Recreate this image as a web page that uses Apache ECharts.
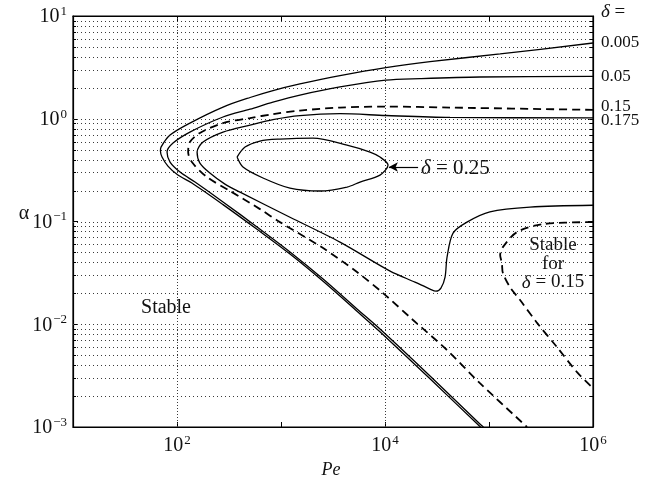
<!DOCTYPE html>
<html>
<head>
<meta charset="utf-8">
<script src="https://cdn.jsdelivr.net/npm/echarts@6/dist/echarts.min.js"></script>
<style>
  html, body { margin: 0; padding: 0; background: #fff; }
  #chart { width: 650px; height: 484px; }
</style>
</head>
<body>
<div id="chart"></div>
<script>
const SERIF = '"Liberation Serif", "DejaVu Serif", serif';

// Axis ranges and tick labels (powers of ten)
const PE_MIN = 10, PE_MAX = 1e6;
const ALPHA_MIN = 1e-3, ALPHA_MAX = 10;
const peLabelExponents = [2, 4, 6];
const alphaLabelExponents = [-3, -2, -1, 0, 1];
const peGridLines = [1e2, 1e4];
const mantissas = [2, 3, 4, 5, 6, 7, 8, 9];

// Neutral-stability curves, [Pe, alpha] pairs
const delta0005 = [
  [1e6, 5.46], [1.28e5, 4.27], [27100, 3.60], [10200, 3.15], [3690, 2.63],
  [1520, 2.18], [837, 1.88], [504, 1.61], [277, 1.30], [133, 0.908],
  [85.7, 0.694], [70.2, 0.530], [69.3, 0.485], [71.8, 0.424], [81.8, 0.346],
  [102, 0.283], [139, 0.237], [277, 0.146], [588, 0.0839], [1220, 0.0482],
  [2540, 0.0262], [5380, 0.0134], [8950, 0.00845], [27100, 0.00295], [81800, 0.00101],
  [83700, 0.001]
];
const delta005 = [
  [1e6, 2.58], [81800, 2.55], [21700, 2.46], [10200, 2.38], [3690, 2.04],
  [1520, 1.70], [837, 1.45], [504, 1.24], [277, 1.04], [133, 0.742],
  [91.6, 0.580], [80.2, 0.474], [85.7, 0.379], [107, 0.303], [149, 0.242],
  [277, 0.155], [588, 0.0885], [1220, 0.0506], [2540, 0.0276], [5380, 0.0141],
  [8950, 0.0090], [27100, 0.00314], [81800, 0.00107], [88500, 0.001]
];
const delta015 = [
  [1e6, 1.22], [42200, 1.285], [10200, 1.315], [3690, 1.285], [1520, 1.20],
  [837, 1.11], [504, 1.016], [277, 0.908], [166, 0.726], [133, 0.593],
  [128, 0.474], [139, 0.379], [194, 0.271], [324, 0.198], [628, 0.132],
  [977, 0.0986], [2540, 0.0551], [5380, 0.0322], [9570, 0.0201], [18600, 0.0110],
  [39500, 0.0056], [81800, 0.00267], [232000, 0.001]
];
const delta015Pocket = [
  [1e6, 0.0986], [331000, 0.0944], [186000, 0.0789], [136000, 0.0563], [128000, 0.0471],
  [133000, 0.0394], [136000, 0.0315], [159000, 0.0230], [199000, 0.0172], [290000, 0.0103],
  [451000, 0.00598], [702000, 0.00342], [1e6, 0.00239]
];
const delta0175 = [
  [1e6, 1.02], [42200, 1.03], [10200, 1.075], [3690, 1.12], [1520, 1.075],
  [837, 0.982], [504, 0.868], [277, 0.742], [178, 0.593], [156, 0.474],
  [166, 0.370], [207, 0.296], [289, 0.231], [404, 0.193], [1220, 0.110],
  [3690, 0.0630], [11200, 0.0329], [19400, 0.0257], [27100, 0.0220], [30900, 0.0210],
  [34500, 0.0225], [37800, 0.0288], [39500, 0.0450], [45100, 0.0771], [61400, 0.0986],
  [102000, 0.124], [248000, 0.138], [1e6, 0.144]
];
const delta025 = [
  [378, 0.424], [451, 0.530], [628, 0.607], [977, 0.634], [2030, 0.648],
  [4310, 0.554], [7180, 0.474], [8950, 0.424], [10700, 0.354], [8950, 0.283],
  [5750, 0.242], [4310, 0.216], [2370, 0.198], [1220, 0.211], [671, 0.265],
  [431, 0.339], [378, 0.424]
];
const curveNames = ['0.005', '0.05', '0.15', '0.175'];
const arrowFrom = [20800, 0.339];
const arrowTo = [10900, 0.339];

// Dotted horizontal grid at every 1..9 x 10^n inside the plot
const alphaGrid = [];
for (let e = -3; e <= 0; e++) {
  for (const m of [1].concat(mantissas)) {
    const v = m * Math.pow(10, e);
    if (v > ALPHA_MIN * 1.0001 && v < ALPHA_MAX * 0.9999) alphaGrid.push([PE_MIN, v, m === 1 ? 1 : 0]);
  }
}

function powLabel(v) {
  const e = Math.round(Math.log10(v));
  return '{b|10}{s|' + String(e).replace('-', '\u2212') + '}';
}
const powRich = {
  b: { fontFamily: SERIF, fontSize: 20, color: '#111', lineHeight: 22, verticalAlign: 'bottom' },
  s: { fontFamily: SERIF, fontSize: 13, color: '#111', lineHeight: 13, verticalAlign: 'top', padding: [0, 0, 0, 1] }
};

const chart = echarts.init(document.getElementById('chart'), null, { renderer: 'canvas' });

const curveLine = (data, dashed, z) => ({
  type: 'line', data, symbol: 'none', smooth: 0.3, silent: true, z: z || 3,
  lineStyle: dashed
    ? { color: '#000', width: 1.8, type: [8, 5] }
    : { color: '#000', width: 1.3 }
});

const label = (x, y, text, size, extra) => ({
  type: 'text', x, y,
  style: Object.assign({
    text, font: size + 'px ' + SERIF, fill: '#111', verticalAlign: 'middle',
    rich: { i: { font: 'italic ' + size + 'px ' + SERIF, fill: '#111' } }
  }, extra || {})
});

const option = {
  animation: false,
  backgroundColor: '#fff',
  grid: { left: 73, right: 57, top: 16, bottom: 57, show: true, borderColor: '#000', borderWidth: 1.2 },
  xAxis: [
    {
      type: 'log', logBase: 10, min: PE_MIN, max: PE_MAX, splitNumber: 5,
      axisLine: { show: true, lineStyle: { color: '#000', width: 1.2 } },
      axisTick: { show: true, inside: true, length: 5, lineStyle: { color: '#000' } },
      splitLine: { show: false },
      axisLabel: {
        margin: 7,
        formatter: v => peLabelExponents.includes(Math.round(Math.log10(v))) ? powLabel(v) : '',
        rich: powRich
      }
    },
    {
      type: 'log', logBase: 10, min: PE_MIN, max: PE_MAX, splitNumber: 5, position: 'top',
      axisLine: { show: true, lineStyle: { color: '#000', width: 1.2 } },
      axisTick: { show: true, inside: true, length: 5, lineStyle: { color: '#000' } },
      splitLine: { show: false }, axisLabel: { show: false }
    }
  ],
  yAxis: [
    {
      type: 'log', logBase: 10, min: ALPHA_MIN, max: ALPHA_MAX, splitNumber: 4,
      axisLine: { show: true, lineStyle: { color: '#000', width: 1.2 } },
      axisTick: { show: true, inside: true, length: 5, lineStyle: { color: '#000' } },
      splitLine: { show: false },
      axisLabel: {
        margin: 6,
        formatter: v => alphaLabelExponents.includes(Math.round(Math.log10(v))) ? powLabel(v) : '',
        rich: powRich
      }
    },
    {
      type: 'log', logBase: 10, min: ALPHA_MIN, max: ALPHA_MAX, splitNumber: 4, position: 'right',
      axisLine: { show: true, lineStyle: { color: '#000', width: 1.2 } },
      axisTick: { show: true, inside: true, length: 5, lineStyle: { color: '#000' } },
      splitLine: { show: false }, axisLabel: { show: false }
    }
  ],
  series: [
    {
      // horizontal dotted grid plus minor ticks on both side axes
      type: 'custom', silent: true, z: 1,
      data: alphaGrid,
      encode: { x: 0, y: 1 },
      renderItem(params, api) {
        const v = api.value(1);
        const major = api.value(2) === 1;
        const a = api.coord([PE_MIN, v]);
        const b = api.coord([PE_MAX, v]);
        const y = Math.round(a[1]) + 0.5;
        const children = [{
          type: 'line',
          shape: { x1: a[0], y1: y, x2: b[0], y2: y },
          style: { stroke: '#3a3a3a', lineWidth: 1, lineDash: [1, 3] }
        }];
        if (!major) {
          children.push(
            { type: 'line', shape: { x1: a[0], y1: y, x2: a[0] + 3, y2: y }, style: { stroke: '#000', lineWidth: 1 } },
            { type: 'line', shape: { x1: b[0] - 3, y1: y, x2: b[0], y2: y }, style: { stroke: '#000', lineWidth: 1 } }
          );
        }
        return { type: 'group', children };
      }
    },
    {
      // vertical dotted grid at 10^2 and 10^4
      type: 'custom', silent: true, z: 1,
      data: peGridLines.map(v => [v, ALPHA_MIN]),
      encode: { x: 0, y: 1 },
      renderItem(params, api) {
        const v = api.value(0);
        const a = api.coord([v, ALPHA_MIN]);
        const b = api.coord([v, ALPHA_MAX]);
        const x = Math.round(a[0]) + 0.5;
        return {
          type: 'line',
          shape: { x1: x, y1: a[1], x2: x, y2: b[1] },
          style: { stroke: '#3a3a3a', lineWidth: 1, lineDash: [1, 2] }
        };
      }
    },
    Object.assign(curveLine(delta0005, false), { name: curveNames[0] }),
    Object.assign(curveLine(delta005, false), { name: curveNames[1] }),
    Object.assign(curveLine(delta015, true), { name: curveNames[2] }),
    Object.assign(curveLine(delta015Pocket, true), { name: curveNames[2] + ' pocket' }),
    Object.assign(curveLine(delta0175, false), { name: curveNames[3] }),
    Object.assign(curveLine(delta025, false), {
      name: '0.25',
      markLine: {
        silent: true, symbol: ['none', 'arrow'], symbolSize: [7, 9],
        label: { show: false },
        lineStyle: { color: '#000', width: 1.2, type: 'solid' },
        data: [[{ coord: arrowFrom }, { coord: arrowTo }]]
      }
    })
  ],
  graphic: [
    label(601, 12, '{i|\u03b4} =', 19),
    label(601, 43, curveNames[0], 17),
    label(601, 77, curveNames[1], 17),
    label(601, 107, curveNames[2], 17),
    label(601, 121, curveNames[3], 17),
    label(421, 168, '{i|\u03b4} = 0.25', 21),
    label(166, 308, 'Stable', 20, { align: 'center' }),
    label(553, 264, 'Stable\nfor\n{i|\u03b4} = 0.15', 19, {
      align: 'center', lineHeight: 18.5,
      rich: { i: { font: 'italic 19px ' + SERIF, fill: '#111', lineHeight: 18.5 } }
    }),
    label(24, 214, '\u03b1', 20, { align: 'center' }),
    label(331, 470, 'Pe', 18, { align: 'center', font: 'italic 18px ' + SERIF })
  ]
};

chart.setOption(option);
</script>
</body>
</html>
